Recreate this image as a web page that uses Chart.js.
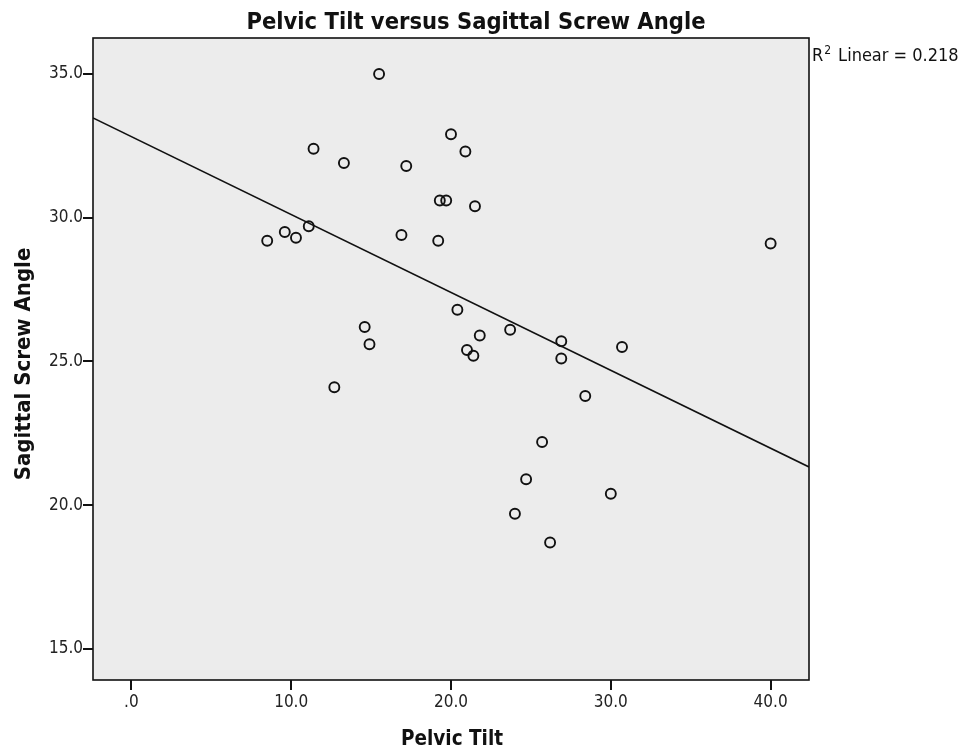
<!DOCTYPE html>
<html>
<head>
<meta charset="utf-8">
<script src="https://cdn.jsdelivr.net/npm/chart.js@4.4.1/dist/chart.umd.min.js"></script>
<style>
html,body{margin:0;padding:0;background:#fff;}
#wrap{width:963px;height:752px;position:relative;}
</style>
</head>
<body>
<div id="wrap"><canvas id="c" width="963" height="752"></canvas></div>
<script>
// Pelvic Tilt (x) values
const pelvicTilt = [15.5, 20.0, 11.4, 20.9, 13.3, 17.2, 19.3, 19.7, 21.5, 11.1, 9.6, 10.3, 8.5, 16.9, 19.2, 40.0,
  20.4, 14.6, 14.9, 21.8, 21.0, 21.4, 23.7, 26.9, 26.9, 30.7, 12.7, 28.4, 25.7, 24.7, 30.0, 24.0, 26.2];
// Sagittal Screw Angle (y) values
const screwAngle = [35.0, 32.9, 32.4, 32.3, 31.9, 31.8, 30.6, 30.6, 30.4, 29.7, 29.5, 29.3, 29.2, 29.4, 29.2, 29.1,
  26.8, 26.2, 25.6, 25.9, 25.4, 25.2, 26.1, 25.7, 25.1, 25.5, 24.1, 23.8, 22.2, 20.9, 20.4, 19.7, 18.7];
// Fit line endpoints (x, y)
const fitX = [-2.4, 42.4];
const fitY = [33.47, 21.33];
const xTicks = [0, 10, 20, 30, 40];
const yTicks = [15, 20, 25, 30, 35];
const titleText = 'Pelvic Tilt versus Sagittal Screw Angle';
const xTitle = 'Pelvic Tilt';
const yTitle = 'Sagittal Screw Angle';
const r2Label = 'Linear = 0.218';

const points = pelvicTilt.map((x, i) => ({x: x, y: screwAngle[i]}));
const fitPoints = fitX.map((x, i) => ({x: x, y: fitY[i]}));

const FAM = "'DejaVu Sans Condensed','Liberation Sans Narrow',sans-serif";
const TITLE_FONT = "bold 23.5px " + FAM;
const XTITLE_FONT = "bold 20.5px " + FAM;
const YTITLE_FONT = "bold 22px " + FAM;
const TICK_FONT_FAMILY = FAM;

const decor = {
  id: 'decor',
  beforeDraw(chart) {
    const {ctx, chartArea: a} = chart;
    ctx.save();
    ctx.fillStyle = '#ececec';
    ctx.fillRect(a.left, a.top, a.right - a.left, a.bottom - a.top);
    ctx.restore();
  },
  afterDraw(chart) {
    const {ctx, chartArea: a, scales} = chart;
    ctx.save();
    ctx.strokeStyle = '#111';
    ctx.lineWidth = 1.6;
    ctx.strokeRect(a.left, a.top, a.right - a.left, a.bottom - a.top);
    // tick marks
    ctx.lineWidth = 2;
    ctx.beginPath();
    xTicks.forEach(v => {
      const px = Math.round(scales.x.getPixelForValue(v));
      ctx.moveTo(px, a.bottom);
      ctx.lineTo(px, a.bottom + 10);
    });
    yTicks.forEach(v => {
      const py = Math.round(scales.y.getPixelForValue(v));
      ctx.moveTo(a.left, py);
      ctx.lineTo(a.left - 10, py);
    });
    ctx.stroke();

    ctx.fillStyle = '#111';
    ctx.textAlign = 'center';
    ctx.textBaseline = 'alphabetic';
    ctx.font = TITLE_FONT;
    ctx.fillText(titleText, 476, 29);
    ctx.font = XTITLE_FONT;
    ctx.fillText(xTitle, 452, 745);
    ctx.save();
    ctx.textBaseline = 'middle';
    ctx.translate(24, 364);
    ctx.rotate(-Math.PI / 2);
    ctx.font = YTITLE_FONT;
    ctx.fillText(yTitle, 0, 0);
    ctx.restore();
    // R squared label
    ctx.textAlign = 'left';
    ctx.textBaseline = 'alphabetic';
    ctx.font = "18px " + TICK_FONT_FAMILY;
    let x0 = a.right + 3;
    ctx.fillText('R', x0, 61);
    x0 += ctx.measureText('R').width;
    ctx.font = "12px " + TICK_FONT_FAMILY;
    ctx.fillText('2', x0 + 1, 54);
    x0 += ctx.measureText('2').width + 8;
    ctx.font = "18px " + TICK_FONT_FAMILY;
    ctx.fillText(r2Label, x0, 61);
    ctx.restore();
  }
};

new Chart(document.getElementById('c'), {
  type: 'scatter',
  data: {
    datasets: [
      {
        type: 'line',
        data: fitPoints,
        borderColor: '#111',
        borderWidth: 1.5,
        pointRadius: 0,
        fill: false,
        tension: 0,
        order: 2
      },
      {
        data: points,
        pointRadius: 5,
        pointBorderWidth: 1.9,
        pointBorderColor: '#111',
        pointBackgroundColor: 'rgba(0,0,0,0)',
        order: 1
      }
    ]
  },
  options: {
    responsive: false,
    animation: false,
    events: [],
    layout: {padding: {left: 0, top: 38, right: 154, bottom: 0}},
    plugins: {legend: {display: false}, tooltip: {enabled: false}, title: {display: false}},
    scales: {
      x: {
        type: 'linear',
        min: -2.4,
        max: 42.4,
        afterBuildTicks: (s) => { s.ticks = xTicks.map(v => ({value: v})); },
        afterFit: (s) => { s.height = 72; },
        grid: {display: false, drawTicks: false},
        border: {display: false},
        ticks: {
          color: '#222',
          font: {size: 17, family: TICK_FONT_FAMILY},
          padding: 12,
          maxRotation: 0,
          callback: (v) => v === 0 ? '.0' : Number(v).toFixed(1)
        }
      },
      y: {
        type: 'linear',
        min: 13.92,
        max: 36.25,
        afterBuildTicks: (s) => { s.ticks = yTicks.map(v => ({value: v})); },
        afterFit: (s) => { s.width = 93; },
        grid: {display: false, drawTicks: false},
        border: {display: false},
        ticks: {
          color: '#222',
          font: {size: 17, family: TICK_FONT_FAMILY},
          padding: 10,
          callback: (v) => Number(v).toFixed(1)
        }
      }
    }
  },
  plugins: [decor]
});
</script>
</body>
</html>
